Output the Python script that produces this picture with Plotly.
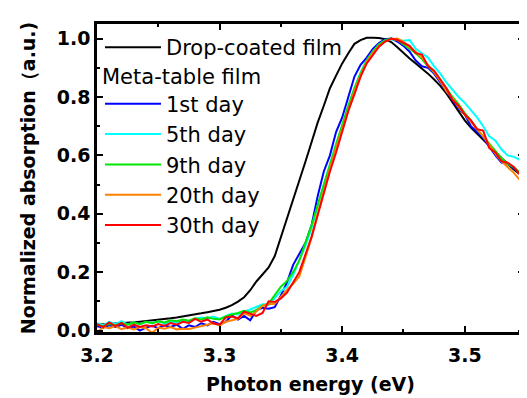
import plotly.graph_objects as go

energy = [3.200, 3.205, 3.210, 3.215, 3.220, 3.225, 3.230, 3.235, 3.240, 3.245,
          3.250, 3.255, 3.260, 3.265, 3.270, 3.275, 3.280, 3.285, 3.290, 3.295,
          3.300, 3.305, 3.310, 3.315, 3.320, 3.325, 3.330, 3.335, 3.340, 3.345,
          3.350, 3.355, 3.360, 3.365, 3.370, 3.375, 3.380, 3.385, 3.390, 3.395,
          3.400, 3.405, 3.410, 3.415, 3.420, 3.425, 3.430, 3.435, 3.440, 3.445,
          3.450, 3.455, 3.460, 3.465, 3.470, 3.475, 3.480, 3.485, 3.490, 3.495,
          3.500, 3.505, 3.510, 3.515, 3.520, 3.525, 3.530, 3.535, 3.540, 3.545,
          3.550]

drop_coated = [0.020, 0.021, 0.022, 0.023, 0.024, 0.026, 0.028, 0.030, 0.032, 0.034,
               0.036, 0.039, 0.042, 0.045, 0.048, 0.051, 0.055, 0.059, 0.063, 0.067,
               0.071, 0.078, 0.087, 0.099, 0.114, 0.138, 0.168, 0.192, 0.216, 0.255,
               0.318, 0.388, 0.452, 0.515, 0.578, 0.645, 0.712, 0.770, 0.830, 0.873,
               0.915, 0.950, 0.982, 0.995, 1.003, 1.003, 1.002, 0.998, 0.988, 0.970,
               0.950, 0.932, 0.915, 0.898, 0.880, 0.860, 0.838, 0.812, 0.780, 0.750,
               0.720, 0.695, 0.675, 0.655, 0.632, 0.612, 0.590, 0.570, 0.552, 0.535,
               0.518]

day1 = [0.015, 0.010, 0.018, 0.012, 0.020, 0.008, 0.014, 0.000, 0.010, 0.016,
        0.008, 0.018, 0.012, 0.020, 0.006, 0.018, 0.012, 0.025, 0.018, 0.030,
        0.022, 0.030, 0.052, 0.038, 0.050, 0.035, 0.070, 0.078, 0.075, 0.080,
        0.120, 0.165, 0.225, 0.265, 0.300, 0.360, 0.460, 0.545, 0.600, 0.680,
        0.730, 0.800, 0.870, 0.910, 0.935, 0.965, 0.985, 0.998, 1.000, 0.990,
        0.975, 0.955, 0.925, 0.905, 0.900, 0.880, 0.850, 0.820, 0.790, 0.760,
        0.740, 0.700, 0.680, 0.660, 0.630, 0.600, 0.575, 0.570, 0.555, 0.540,
        0.525]

day5 = [0.025, 0.018, 0.030, 0.022, 0.032, 0.020, 0.028, 0.022, 0.030, 0.026,
        0.032, 0.024, 0.030, 0.028, 0.034, 0.030, 0.040, 0.045, 0.042, 0.048,
        0.040, 0.050, 0.058, 0.055, 0.065, 0.072, 0.080, 0.090, 0.088, 0.110,
        0.135, 0.150, 0.190, 0.240, 0.290, 0.350, 0.430, 0.500, 0.570, 0.640,
        0.700, 0.770, 0.830, 0.885, 0.925, 0.955, 0.980, 0.993, 0.998, 0.995,
        0.993, 0.995, 0.965, 0.950, 0.935, 0.905, 0.880, 0.850, 0.825, 0.800,
        0.780, 0.755, 0.730, 0.700, 0.665, 0.650, 0.620, 0.600, 0.595, 0.585,
        0.570]

day9 = [0.020, 0.015, 0.022, 0.018, 0.025, 0.020, 0.028, 0.022, 0.030, 0.025,
        0.032, 0.028, 0.035, 0.032, 0.038, 0.034, 0.042, 0.038, 0.045, 0.040,
        0.038, 0.048, 0.055, 0.060, 0.068, 0.062, 0.070, 0.085, 0.092, 0.120,
        0.150, 0.170, 0.200, 0.240, 0.300, 0.360, 0.430, 0.500, 0.570, 0.640,
        0.705, 0.770, 0.830, 0.880, 0.925, 0.955, 0.980, 0.995, 1.000, 0.995,
        0.980, 0.965, 0.950, 0.930, 0.905, 0.885, 0.860, 0.830, 0.800, 0.775,
        0.745, 0.720, 0.690, 0.665, 0.640, 0.615, 0.590, 0.570, 0.560, 0.540,
        0.525]

day20 = [-0.008, 0.012, 0.008, 0.015, 0.005, 0.010, 0.004, 0.012, 0.008, -0.008,
         0.010, 0.006, 0.012, 0.004, 0.006, 0.005, 0.010, 0.014, 0.020, 0.025,
         0.018, 0.030, 0.035, 0.040, 0.060, 0.050, 0.065, 0.085, 0.090, 0.092,
         0.115, 0.140, 0.160, 0.185, 0.250, 0.320, 0.400, 0.480, 0.555, 0.625,
         0.690, 0.760, 0.820, 0.875, 0.920, 0.950, 0.975, 0.990, 0.998, 1.000,
         0.990, 0.970, 0.955, 0.935, 0.910, 0.885, 0.855, 0.820, 0.795, 0.765,
         0.740, 0.715, 0.690, 0.665, 0.635, 0.605, 0.580, 0.560, 0.540, 0.515,
         0.495]

day30 = [0.022, 0.012, 0.028, 0.015, 0.026, 0.010, 0.020, 0.012, 0.018, 0.014,
         0.022, 0.016, 0.026, 0.020, 0.030, 0.026, 0.040, 0.030, 0.038, 0.024,
         0.020, 0.045, 0.048, 0.042, 0.065, 0.058, 0.050, 0.060, 0.100, 0.098,
         0.110, 0.130, 0.165, 0.200, 0.260, 0.320, 0.395, 0.475, 0.545, 0.610,
         0.680, 0.752, 0.810, 0.870, 0.915, 0.945, 0.972, 0.990, 1.000, 0.995,
         0.985, 0.975, 0.950, 0.945, 0.905, 0.890, 0.860, 0.830, 0.790, 0.770,
         0.740, 0.720, 0.690, 0.685, 0.625, 0.610, 0.580, 0.575, 0.560, 0.535,
         0.505]

day_labels = ["1st day", "5th day", "9th day", "20th day", "30th day"]
day_series = [day1, day5, day9, day20, day30]
day_colors = ["#0000FF", "#00FFFF", "#00E600", "#FF8000", "#FF0000"]

x_ticks = [3.2, 3.3, 3.4, 3.5]
y_ticks = [0.0, 0.2, 0.4, 0.6, 0.8, 1.0]

fig = go.Figure()
fig.add_trace(go.Scatter(x=energy, y=drop_coated, mode="lines",
                         name="Drop-coated film", line=dict(color="black", width=2),
                         legend="legend"))
for lab, ser, col in zip(day_labels, day_series, day_colors):
    fig.add_trace(go.Scatter(x=energy, y=ser, mode="lines", name=lab,
                             line=dict(color=col, width=2), legend="legend2"))

tick_font = dict(family="DejaVu Sans", size=19, color="black", weight="bold")
leg_font = dict(family="DejaVu Sans", size=21, color="black")

# page body has an 8px margin: figure sized so it ends at the window edge
fig.update_layout(
    width=519, height=390,
    margin=dict(l=89, r=0, t=16, b=66),
    paper_bgcolor="white", plot_bgcolor="white",
    showlegend=True,
    legend=dict(x=0.007, y=0.99, xanchor="left", yanchor="top",
                font=leg_font, bgcolor="rgba(0,0,0,0)", itemwidth=56,
                tracegroupgap=0),
    legend2=dict(x=0.007, y=0.895, xanchor="left", yanchor="top",
                 font=leg_font, bgcolor="rgba(0,0,0,0)", itemwidth=56,
                 title=dict(text="Meta-table film", font=leg_font),
                 tracegroupgap=0),
    xaxis=dict(range=[3.2, 3.5483], tickvals=x_ticks, tickformat=".1f",
               ticks="inside", ticklen=6, tickwidth=2, tickcolor="black",
               showline=True, linewidth=2.5, linecolor="black", mirror="ticks",
               showgrid=False, zeroline=False, tickfont=tick_font,
               ticklabelstandoff=4,
               minor=dict(dtick=0.05, ticks="inside", ticklen=3, tickwidth=2,
                          tickcolor="black", showgrid=False),
               title=dict(text="Photon energy (eV)", font=tick_font, standoff=14)),
    yaxis=dict(range=[-0.005, 1.05], tickvals=y_ticks, tickformat=".1f",
               ticks="inside", ticklen=6, tickwidth=2, tickcolor="black",
               showline=True, linewidth=2.5, linecolor="black", mirror="ticks",
               showgrid=False, zeroline=False, tickfont=tick_font,
               minor=dict(dtick=0.1, ticks="inside", ticklen=3, tickwidth=2,
                          tickcolor="black", showgrid=False),
               title=dict(text="Normalized absorption（a.u.)", font=tick_font, standoff=17)),
)

fig.write_html("out.html")
